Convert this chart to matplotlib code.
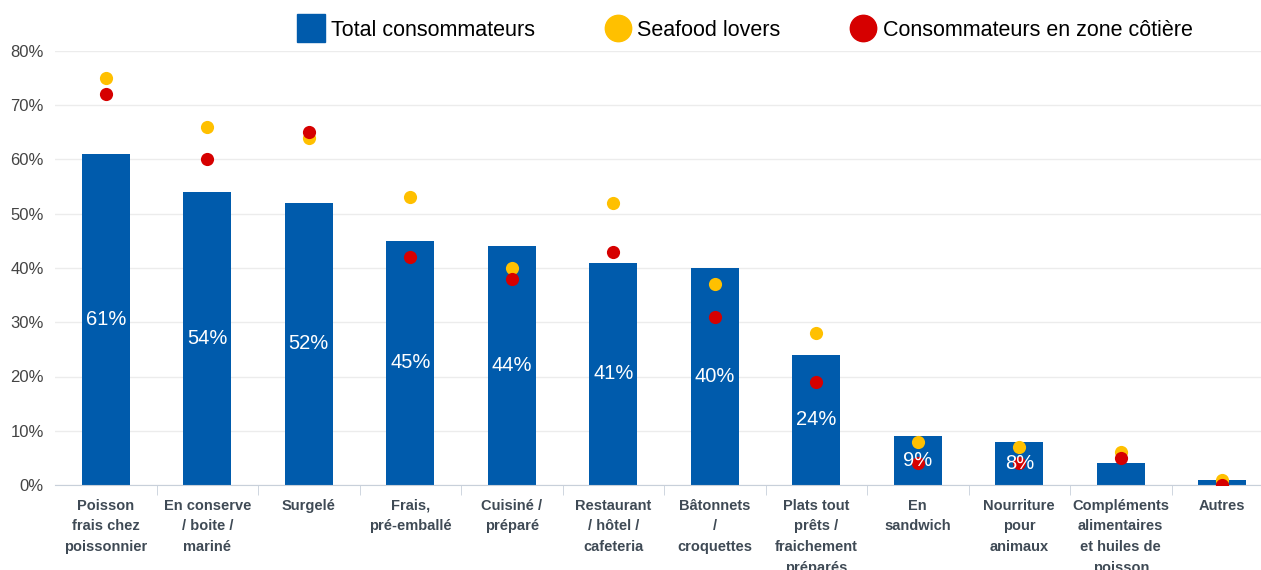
import matplotlib.pyplot as plt
from matplotlib.lines import Line2D

plt.rcParams['font.family'] = ['Liberation Sans', 'DejaVu Sans']

categories = ["Poisson\nfrais chez\npoissonnier", "En conserve\n/ boite /\nmariné", "Surgelé",
              "Frais,\npré-emballé", "Cuisiné /\npréparé", "Restaurant\n/ hôtel /\ncafeteria",
              "Bâtonnets\n/\ncroquettes", "Plats tout\nprêts /\nfraichement\npréparés", "En\nsandwich",
              "Nourriture\npour\nanimaux", "Compléments\nalimentaires\net huiles de\npoisson", "Autres"]
total = [61, 54, 52, 45, 44, 41, 40, 24, 9, 8, 4, 1]
seafood = [75, 66, 64, 53, 40, 52, 37, 28, 8, 7, 6, 1]
cotiere = [72, 60, 65, 42, 38, 43, 31, 19, 4, 4, 5, 0]

blue = '#005BAC'
yellow = '#FFC000'
red = '#D60000'

fig = plt.figure(figsize=(12.61, 5.70), dpi=100)
# plot area runs a bit past the right edge (the original is cropped there)
ax = fig.add_axes([55/1261, 85/570, 1218/1261, 434/570])

x = list(range(len(categories)))
bars = ax.bar(x, total, width=0.47, color=blue, zorder=2)
ax.scatter(x, seafood, s=90, color=yellow, zorder=3, linewidths=0)
ax.scatter(x, cotiere, s=90, color=red, zorder=4, linewidths=0)

# labels inside bars
for xi, v in zip(x, total):
    if v >= 5:
        ax.text(xi, v / 2, f"{v}%", ha='center', va='center', color='white', fontsize=14.5, zorder=5)

ax.set_xlim(-0.5, len(categories) - 0.5)
ax.set_ylim(0, 80)
ax.set_yticks(range(0, 81, 10))
ax.set_yticklabels([f"{t}%" for t in range(0, 81, 10)], fontsize=12, color='#444444')
ax.yaxis.grid(True, color='#ECECEC', linewidth=1, zorder=0)
ax.set_axisbelow(True)

ax.set_xticks(x)
ax.set_xticklabels(categories, fontsize=10.5, fontweight='bold', color='#3F4A55', linespacing=1.6)
ax.tick_params(axis='x', length=0, pad=10)
ax.tick_params(axis='y', length=0, pad=8)
ax.set_xticks([i + 0.5 for i in x[:-1]], minor=True)
ax.tick_params(axis='x', which='minor', length=7, color='#C8D0DA')

for s in ['top', 'right', 'left']:
    ax.spines[s].set_visible(False)
ax.spines['bottom'].set_color('#C8D0DA')

handles = [Line2D([], [], marker='s', linestyle='', markersize=20, color=blue),
           Line2D([], [], marker='o', linestyle='', markersize=19, color=yellow),
           Line2D([], [], marker='o', linestyle='', markersize=19, color=red)]
labels = ["Total consommateurs", "Seafood lovers", "Consommateurs en zone côtière"]
fig.legend(handles, labels, loc='center', bbox_to_anchor=(745/1261, 1 - 30/570), ncol=3,
           frameon=False, fontsize=15.5, handletextpad=0.25, columnspacing=3.2, handlelength=1.3)

fig.savefig('out.png', dpi=100)
